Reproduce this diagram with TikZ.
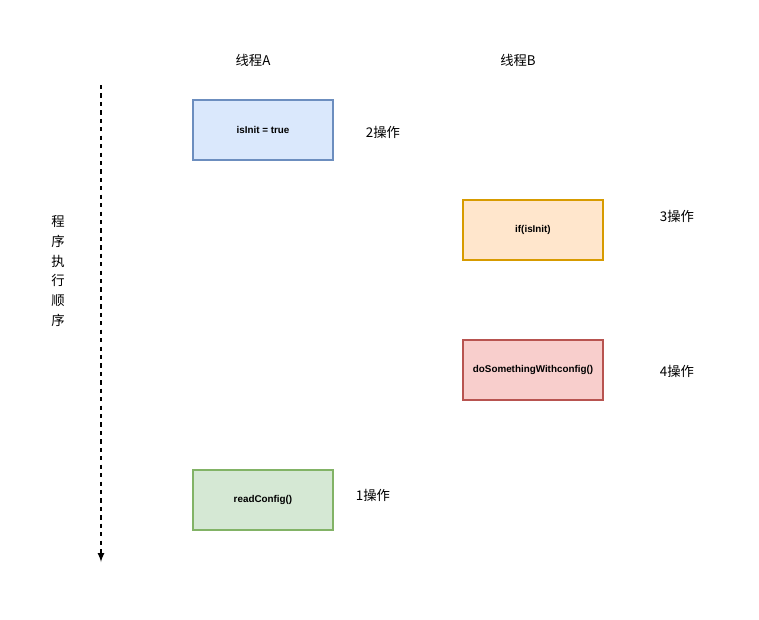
\documentclass[tikz,border=0pt]{standalone}
\usepackage{fontspec}
\setsansfont{Liberation Sans}
\newfontfamily\cjk{Noto Sans CJK SC}
\definecolor{blueF}{HTML}{DAE8FC}\definecolor{blueD}{HTML}{6C8EBF}
\definecolor{orangeF}{HTML}{FFE6CC}\definecolor{orangeD}{HTML}{D79B00}
\definecolor{redF}{HTML}{F8CECC}\definecolor{redD}{HTML}{B85450}
\definecolor{greenF}{HTML}{D5E8D4}\definecolor{greenD}{HTML}{82B366}
\begin{document}
\begin{tikzpicture}[x=0.025cm,y=-0.025cm,
  opbox/.style={draw,line width=1pt,minimum width=3.5cm,minimum height=1.5cm,inner sep=0pt,font=\sffamily\bfseries\fontsize{7}{8}\selectfont},
  lbl/.style={font=\cjk\fontsize{9.5}{11}\selectfont}]
\useasboundingbox (0,0) rectangle (759,620);

\node[lbl] (thA) at (253,60) {线程A};
\node[lbl] (thB) at (518,60) {线程B};

\node[opbox,fill=blueF,draw=blueD] (init) at (263,130) {isInit = true};
\node[opbox,fill=orangeF,draw=orangeD] (check) at (533,230) {if(isInit)};
\node[opbox,fill=redF,draw=redD] (doit) at (533,370) {doSomethingWithconfig()};
\node[opbox,fill=greenF,draw=greenD] (read) at (263,500) {readConfig()};

\node[lbl] (op2) at (383,132) {2操作};
\node[lbl] (op3) at (677,216) {3操作};
\node[lbl] (op4) at (677,371) {4操作};
\node[lbl] (op1) at (373,495) {1操作};

\node[lbl,align=center,font=\cjk\fontsize{9.5}{14}\selectfont] (order) at (58,271) {程\\序\\执\\行\\顺\\序};

\coordinate (top) at (101,85);
\coordinate (bot) at (101,562);
\draw[line width=1.2pt,dashed,-latex] (top) -- (bot);
\end{tikzpicture}
\end{document}
